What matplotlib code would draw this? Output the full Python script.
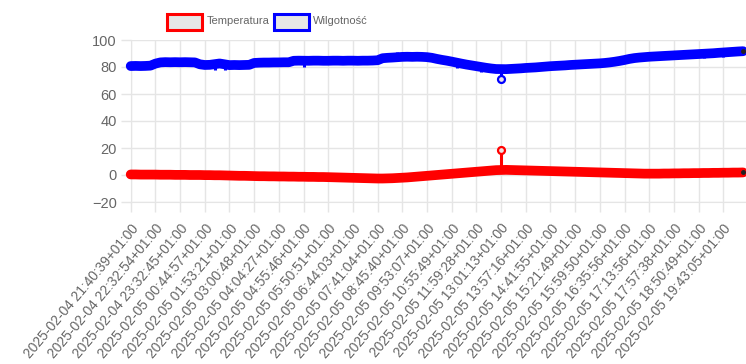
import matplotlib
matplotlib.use("Agg")
import matplotlib.pyplot as plt
import matplotlib.transforms as mtransforms
from matplotlib.patches import Rectangle
import numpy as np

plt.rcParams['font.family'] = ['Liberation Sans', 'DejaVu Sans']

# tick labels shown on the category axis (every 5th sample)
tick_labels = [
    "2025-02-04 21:40:39+01:00", "2025-02-04 22:32:54+01:00",
    "2025-02-04 23:32:45+01:00", "2025-02-05 00:44:57+01:00",
    "2025-02-05 01:53:21+01:00", "2025-02-05 03:00:48+01:00",
    "2025-02-05 04:04:27+01:00", "2025-02-05 04:55:46+01:00",
    "2025-02-05 05:50:51+01:00", "2025-02-05 06:44:03+01:00",
    "2025-02-05 07:41:04+01:00", "2025-02-05 08:45:40+01:00",
    "2025-02-05 09:53:07+01:00", "2025-02-05 10:55:49+01:00",
    "2025-02-05 11:59:28+01:00", "2025-02-05 13:01:13+01:00",
    "2025-02-05 13:57:16+01:00", "2025-02-05 14:41:55+01:00",
    "2025-02-05 15:21:49+01:00", "2025-02-05 15:59:50+01:00",
    "2025-02-05 16:35:56+01:00", "2025-02-05 17:13:56+01:00",
    "2025-02-05 17:57:38+01:00", "2025-02-05 18:50:49+01:00",
    "2025-02-05 19:43:05+01:00",
]
label_step = 5

temperatura = [
    0.4, 0.4, 0.3, 0.3, 0.3, 0.3, 0.2, 0.2, 0.2, 0.1,
    0.1, 0.1, 0.0, 0.0, 0.0, -0.1, -0.1, -0.2, -0.2, -0.3,
    -0.4, -0.5, -0.6, -0.6, -0.7, -0.8, -0.9, -0.9, -1.0, -1.0,
    -1.1, -1.1, -1.2, -1.2, -1.3, -1.3, -1.4, -1.4, -1.5, -1.5,
    -1.6, -1.7, -1.8, -1.9, -2.0, -2.1, -2.2, -2.3, -2.4, -2.5,
    -2.6, -2.6, -2.5, -2.4, -2.2, -2.0, -1.8, -1.5, -1.2, -0.9,
    -0.6, -0.3, 0.0, 0.3, 0.6, 0.9, 1.2, 1.5, 1.8, 2.1,
    2.4, 2.7, 3.0, 3.3, 3.6, 18.5, 3.8, 3.7, 3.6, 3.5,
    3.4, 3.3, 3.2, 3.1, 3.0, 2.9, 2.8, 2.7, 2.6, 2.5,
    2.4, 2.3, 2.2, 2.1, 2.0, 1.9, 1.8, 1.7, 1.6, 1.5,
    1.4, 1.3, 1.2, 1.1, 1.0, 1.0, 1.0, 1.0, 1.1, 1.1,
    1.2, 1.2, 1.3, 1.3, 1.4, 1.4, 1.5, 1.5, 1.6, 1.6,
    1.7, 1.7, 1.8, 1.8, 1.9,
]

wilgotnosc = [
    80.7, 80.8, 80.7, 80.8, 81.0, 82.5, 83.4, 83.6, 83.5, 83.6,
    83.5, 83.6, 83.5, 83.4, 82.0, 81.5, 81.6, 77.5, 82.6, 77.5,
    81.4, 81.5, 81.4, 81.5, 81.6, 83.0, 83.2, 83.3, 83.3, 83.4,
    83.4, 83.5, 83.5, 84.6, 84.7, 80.0, 84.6, 84.7, 84.7, 84.6,
    84.6, 84.7, 84.7, 84.6, 84.7, 84.7, 84.6, 84.7, 84.7, 84.8,
    85.0, 86.5, 86.8, 87.0, 91.0, 87.5, 87.6, 87.5, 87.6, 87.5,
    87.3, 86.8, 86.0, 85.3, 84.7, 84.0, 79.0, 82.5, 81.8, 81.2,
    80.6, 76.5, 79.4, 78.9, 78.5, 70.9, 78.4, 78.6, 78.8, 79.0,
    79.3, 79.5, 79.7, 80.0, 80.3, 80.6, 80.8, 81.0, 81.2, 81.5,
    81.7, 81.9, 82.1, 82.3, 82.5, 82.7, 83.0, 83.4, 83.9, 84.5,
    85.2, 86.0, 86.6, 87.0, 87.3, 87.6, 87.8, 88.0, 88.2, 88.4,
    88.6, 88.8, 89.0, 89.2, 89.4, 89.6, 86.5, 90.0, 90.2, 90.5,
    87.5, 91.0, 94.5, 91.5, 91.7,
]

W, H, DPI = 746, 364, 100
fig = plt.figure(figsize=(W / DPI, H / DPI), dpi=DPI)
left_px, right_px, top_px, bottom_px = 130.7, 746, 40, 202
ax = fig.add_axes([left_px / W, 1 - bottom_px / H,
                   (right_px - left_px) / W, (bottom_px - top_px) / H])

x = np.arange(len(temperatura))
grid_c = '#e5e5e5'
text_c = '#666666'

series = [(temperatura, 'red'), (wilgotnosc, 'blue')]
for vals, col in series:
    vals = np.array(vals, dtype=float)
    # local median (5 samples) -> single-sample noise spikes stay thin
    padded = np.pad(vals, 2, mode='edge')
    base = np.median(np.lib.stride_tricks.sliding_window_view(padded, 5), axis=1)
    dev = np.abs(vals - base)
    keep = dev <= 2.5
    # thick band made by the dense point markers, spikes drawn as thin stems
    ax.plot(x[keep], vals[keep], color=col, lw=7, solid_capstyle='round',
            solid_joinstyle='round', zorder=3, clip_on=False)
    ax.vlines(x[~keep], base[~keep], vals[~keep], color=col, lw=2.2, zorder=3)
    big = dev > 7
    ax.plot(x[big], vals[big], marker='o', ms=5, mfc='#ece4e4', mec=col,
            mew=1.6, ls='none', zorder=4)
    ax.plot(x[-1], vals[-1], marker='o', ms=2.5, color='#222222',
            ls='none', zorder=5)

ax.set_xlim(0, 124.6)
ax.set_ylim(-20, 100)
ax.set_yticks(range(-20, 101, 20))
ax.set_xticks(x[::label_step])
ax.set_xticklabels(tick_labels, rotation=50, ha='right',
                   rotation_mode='anchor', va='top')
shift = mtransforms.ScaledTranslation(1.5 / DPI, 0, fig.dpi_scale_trans)
for lab in ax.get_xticklabels():
    lab.set_transform(lab.get_transform() + shift)

ax.grid(True, color=grid_c, lw=1)
ax.set_axisbelow(True)
for s in ['top', 'right']:
    ax.spines[s].set_visible(False)
for s in ['left', 'bottom']:
    ax.spines[s].set_color(grid_c)
ax.tick_params(axis='both', colors=grid_c, labelcolor=text_c,
               length=7, width=1)
ax.tick_params(axis='y', labelsize=10.5, pad=3)
ax.tick_params(axis='x', pad=7, labelsize=9.9)

# legend boxes drawn in figure pixels, like the chart.js legend
legend_items = [(167, 207, 'red', 'Temperatura'), (274, 313, 'blue', 'Wilgotność')]
for bx, tx, col, name in legend_items:
    fig.patches.append(Rectangle((bx / W, 1 - 30 / H), 35 / W, 16 / H,
                                 transform=fig.transFigure, facecolor='#e6e6e6',
                                 edgecolor=col, lw=2.2))
    fig.text(tx / W, 1 - 21.5 / H, name, color=text_c, fontsize=8,
             ha='left', va='center')

fig.savefig('out.png', dpi=DPI)
